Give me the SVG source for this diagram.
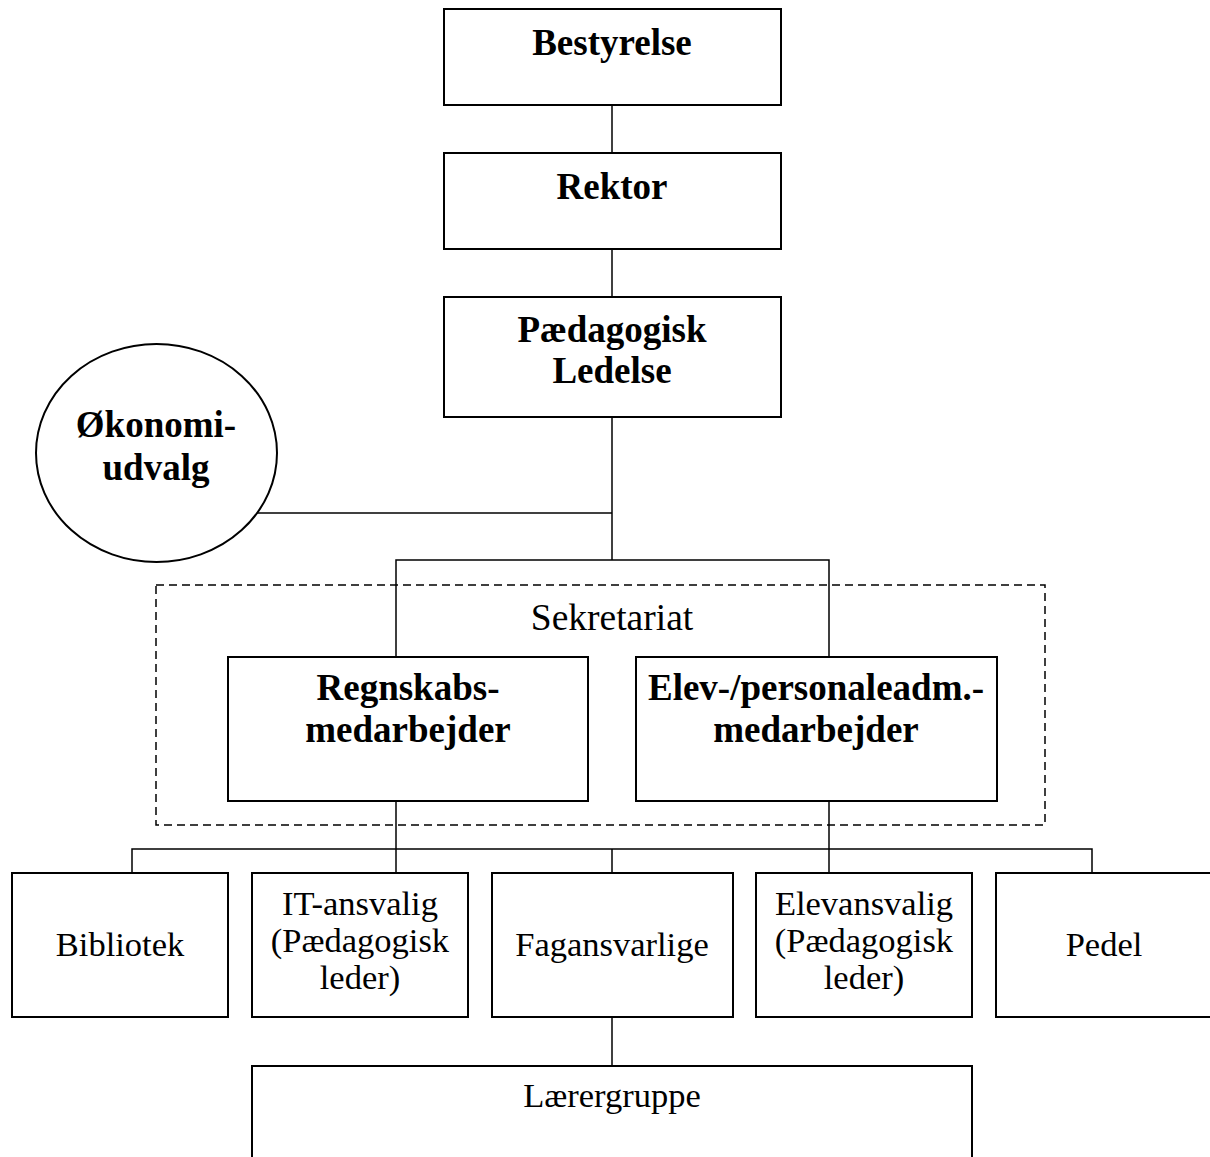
<svg xmlns="http://www.w3.org/2000/svg" width="1210" height="1157" viewBox="0 0 1210 1157">
<style>
.box{fill:#fff;stroke:#000;stroke-width:2}
.b{font-family:"Liberation Serif","Times New Roman",serif;font-weight:bold;font-size:37px;text-anchor:middle;fill:#000}
.r{font-family:"Liberation Serif","Times New Roman",serif;font-size:34.5px;text-anchor:middle;fill:#000}
.c{fill:none;stroke:#000;stroke-width:1.5}
</style>
<rect width="1210" height="1157" fill="#fff"/>
<g id="connectors" class="c">
<line x1="612" y1="105" x2="612" y2="153"/>
<line x1="612" y1="249" x2="612" y2="297"/>
<line x1="612" y1="417" x2="612" y2="560"/>
<line x1="255" y1="513" x2="612" y2="513"/>
<polyline points="396,657 396,560 829,560 829,657"/>
<line x1="396" y1="801" x2="396" y2="873"/>
<line x1="829" y1="801" x2="829" y2="873"/>
<polyline points="132,873 132,849 1092,849 1092,873"/>
<line x1="612" y1="849" x2="612" y2="873"/>
<line x1="612" y1="1017" x2="612" y2="1066"/>
</g>
<g id="sekretariat">
<rect x="156" y="585" width="889" height="240" fill="none" stroke="#000" stroke-width="1.5" stroke-dasharray="8,5"/>
<text class="r" x="612" y="630" style="font-size:37.5px">Sekretariat</text>
</g>
<g id="bestyrelse"><rect class="box" x="444" y="9" width="337" height="96"/><text class="b" x="612" y="55">Bestyrelse</text></g>
<g id="rektor"><rect class="box" x="444" y="153" width="337" height="96"/><text class="b" x="612" y="199">Rektor</text></g>
<g id="paedagogisk-ledelse"><rect class="box" x="444" y="297" width="337" height="120"/><text class="b" x="612" y="342">Pædagogisk</text><text class="b" x="612" y="383">Ledelse</text></g>
<g id="okonomiudvalg"><ellipse class="box" cx="156.5" cy="453" rx="120.5" ry="109"/><text class="b" x="156" y="437">Økonomi-</text><text class="b" x="156" y="480">udvalg</text></g>
<g id="regnskab"><rect class="box" x="228" y="657" width="360" height="144"/><text class="b" x="408" y="700">Regnskabs-</text><text class="b" x="408" y="742">medarbejder</text></g>
<g id="elevpersonale"><rect class="box" x="636" y="657" width="361" height="144"/><text class="b" x="816" y="700">Elev-/personaleadm.-</text><text class="b" x="816" y="742">medarbejder</text></g>
<g id="bibliotek"><rect class="box" x="12" y="873" width="216" height="144"/><text class="r" x="120" y="956">Bibliotek</text></g>
<g id="it"><rect class="box" x="252" y="873" width="216" height="144"/><text class="r" x="360" y="915">IT-ansvalig</text><text class="r" x="360" y="952">(Pædagogisk</text><text class="r" x="360" y="989">leder)</text></g>
<g id="fagansvarlige"><rect class="box" x="492" y="873" width="241" height="144"/><text class="r" x="612" y="956">Fagansvarlige</text></g>
<g id="elevansvalig"><rect class="box" x="756" y="873" width="216" height="144"/><text class="r" x="864" y="915">Elevansvalig</text><text class="r" x="864" y="952">(Pædagogisk</text><text class="r" x="864" y="989">leder)</text></g>
<g id="pedel"><rect class="box" x="996" y="873" width="216" height="144"/><text class="r" x="1104" y="956">Pedel</text></g>
<g id="laerergruppe"><rect class="box" x="252" y="1066" width="720" height="120"/><text class="r" x="612" y="1107">Lærergruppe</text></g>
</svg>
